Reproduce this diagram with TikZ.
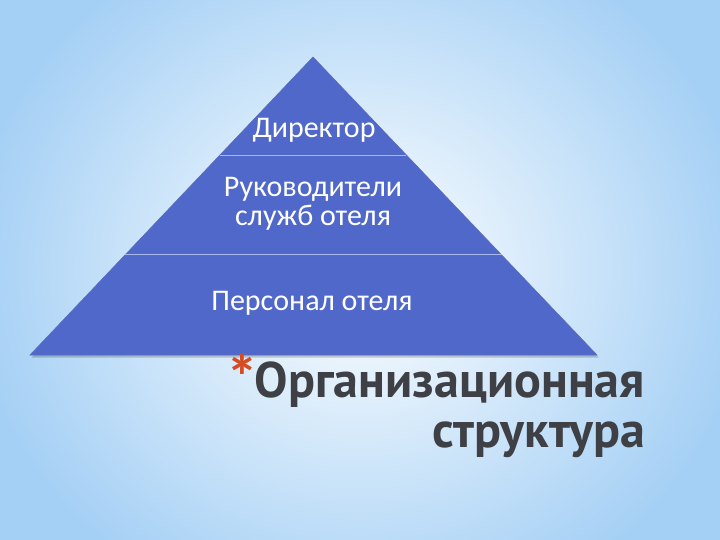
\documentclass[tikz,border=0pt]{standalone}
\usepackage{fontspec}
\setmainfont{Carlito}
\newfontfamily\titlefont{PT Sans}
\usetikzlibrary{calc,fadings}
\definecolor{sky}{RGB}{165,208,245}
\definecolor{pyr}{RGB}{80,104,202}
\definecolor{divline}{RGB}{170,185,235}
\definecolor{titlegray}{RGB}{62,64,70}
\definecolor{star}{RGB}{215,75,35}
\tikzfading[name=bandfade, top color=transparent!100, middle color=transparent!0, bottom color=transparent!100]
\tikzset{
  leveltext/.style={text=white, font=\fontsize{30}{33}\selectfont, align=center, inner sep=0pt},
  titletext/.style={text=titlegray, font=\titlefont\bfseries\fontsize{50}{54}\selectfont, inner sep=0pt, anchor=base east},
  divider/.style={draw=divline, line width=0.8pt},
}
\begin{document}
\begin{tikzpicture}[x=1pt,y=-1pt]
\useasboundingbox (0,0) rectangle (720,540);
% background
\shade[inner color=white, outer color=sky] (-30,-90) rectangle (750,630);
\fill[sky, opacity=0.4, path fading=bandfade] (0,340) rectangle (720,405);
% pyramid
\coordinate (apex) at (313,57);
\coordinate (bl) at (30,355);
\coordinate (br) at (597,355);
\fill[black, opacity=0.18] ($(apex)+(1.5,2)$) -- ($(bl)+(1.5,2.5)$) -- ($(br)+(1.5,2.5)$) -- cycle;
\fill[pyr, draw=pyr!80!gray, line width=0.6pt] (apex) -- (bl) -- (br) -- cycle;
\draw[divider] ($(apex)!0.329!(bl)$) -- ($(apex)!0.329!(br)$);
\draw[divider] ($(apex)!0.664!(bl)$) -- ($(apex)!0.664!(br)$);
\node[leveltext] (dir) at (314,130) {Директор};
\node[leveltext] (ruk) at (313,204) {Руководители\\[-4pt]служб отеля};
\node[leveltext] (pers) at (312,303) {Персонал отеля};
% title
\node[titletext] (t1) at (645,397) {Организационная};
\node[titletext] (t2) at (645,447) {структура};
\node[text=star, font=\fontsize{64}{64}\selectfont\bfseries, inner sep=0pt, anchor=north] (st) at (242,354) {*};
\end{tikzpicture}
\end{document}
